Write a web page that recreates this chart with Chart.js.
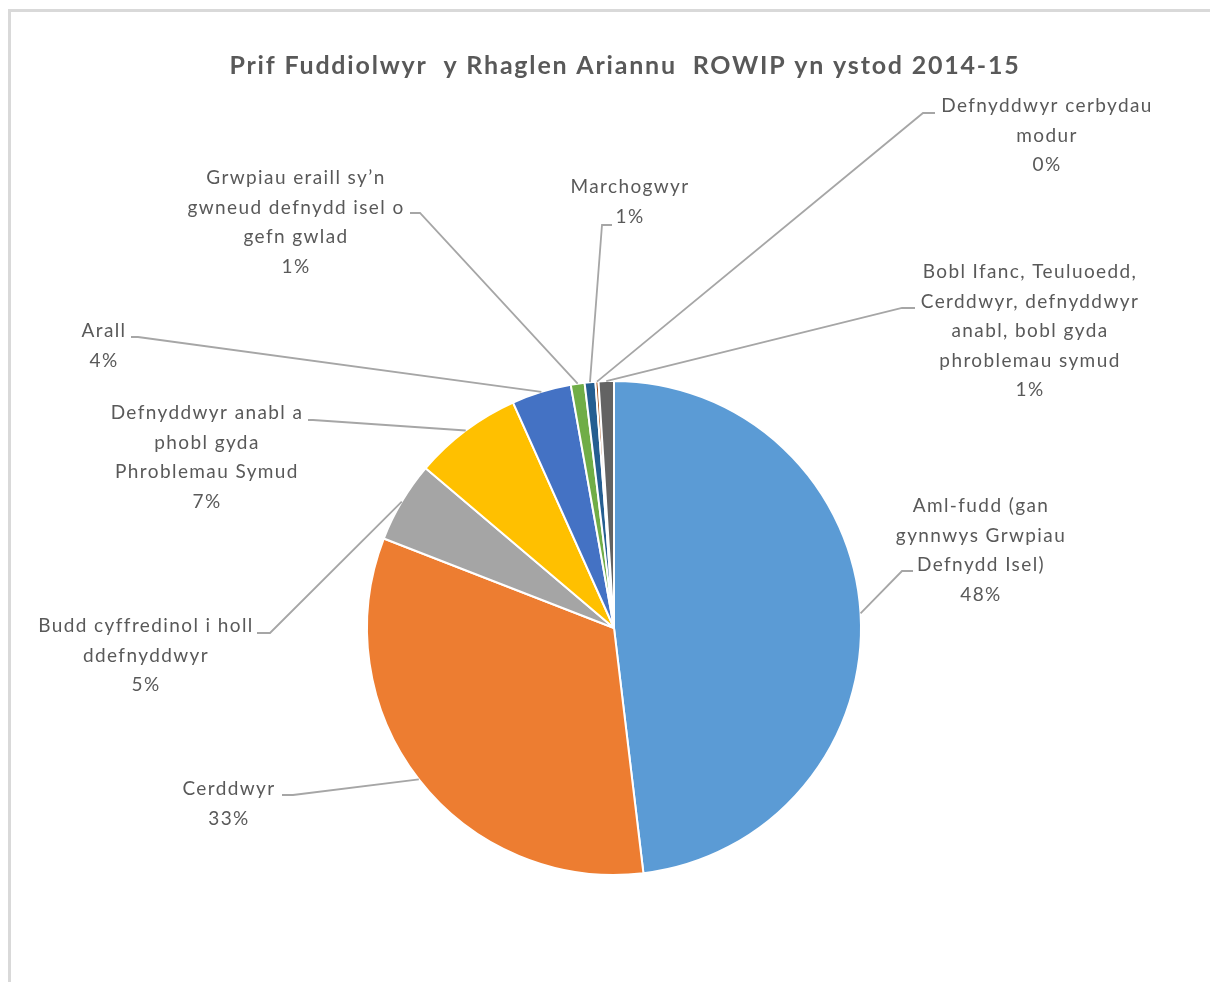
<!DOCTYPE html>
<html>
<head>
<meta charset="utf-8">
<title>Prif Fuddiolwyr y Rhaglen Ariannu ROWIP yn ystod 2014-15</title>
<script src="https://cdn.jsdelivr.net/npm/chart.js@4/dist/chart.umd.min.js"></script>
<style>
    html, body { margin: 0; padding: 0; background: #ffffff; overflow: hidden; }
    #pieChart { display: block; }
</style>
</head>
<body>
<canvas id="pieChart" width="1210" height="982"></canvas>
<script>
// ==================== DATA ====================

const chartTitle = 'Prif Fuddiolwyr  y Rhaglen Ariannu  ROWIP yn ystod 2014-15';

// category names, already broken into lines the way the labels wrap
const categories = [
    ['Aml-fudd (gan', 'gynnwys Grwpiau', 'Defnydd Isel)'],
    ['Cerddwyr'],
    ['Budd cyffredinol i holl', 'ddefnyddwyr'],
    ['Defnyddwyr anabl a', 'phobl gyda', 'Phroblemau Symud'],
    ['Arall'],
    ['Grwpiau eraill sy\u2019n', 'gwneud defnydd isel o', 'gefn gwlad'],
    ['Marchogwyr'],
    ['Defnyddwyr cerbydau', 'modur'],
    ['Bobl Ifanc, Teuluoedd,', 'Cerddwyr, defnyddwyr', 'anabl, bobl gyda', 'phroblemau symud']
];

// share of funding (%)
const shareValues = [48.1, 32.8, 5.3, 7.1, 3.9, 0.9, 0.7, 0.2, 1.0];

const sliceColors = ['#5B9BD5', '#ED7D31', '#A5A5A5', '#FFC000', '#4472C4',
                     '#70AD47', '#255E91', '#9E480E', '#636363'];

// ==================== LABEL LAYOUT ====================

// text centre x, first line centre y, elbow of leader line, end of leader line
const labelLayout = [
    { x: 981,  y: 506, elbow: [902, 571], end: [913, 571] },
    { x: 229,  y: 789, elbow: [293, 795], end: [282, 795] },
    { x: 146,  y: 626, elbow: [270, 633], end: [257, 633] },
    { x: 207,  y: 413, elbow: [313, 420], end: [308, 420] },
    { x: 104,  y: 331, elbow: [138, 337], end: [131, 337] },
    { x: 296,  y: 178, elbow: [420, 213], end: [410, 213] },
    { x: 630,  y: 187, elbow: [602, 225], end: [612, 225] },
    { x: 1047, y: 106, elbow: [923, 113], end: [935, 113] },
    { x: 1030, y: 272, elbow: [902, 308], end: [915, 308] }
];

const FONT = 'Lato, "Open Sans", sans-serif';
const TEXT_COLOR = '#595959';
const LINE_GAP = 29.5;

// ==================== PLUGINS ====================

// white background, frame and title
const framePlugin = {
    id: 'frame',
    beforeDraw(chart) {
        const ctx = chart.ctx;
        ctx.save();
        ctx.fillStyle = '#ffffff';
        ctx.fillRect(0, 0, chart.width, chart.height);
        ctx.fillStyle = '#d9d9d9';
        ctx.fillRect(8, 9, chart.width, 3);
        ctx.fillRect(8, 9, 3, chart.height);

        ctx.fillStyle = TEXT_COLOR;
        ctx.font = 'bold 25px ' + FONT;
        ctx.letterSpacing = '1.8px';
        ctx.textAlign = 'center';
        ctx.textBaseline = 'middle';
        ctx.fillText(chartTitle, 625, 66);
        ctx.restore();
    }
};

// data labels with leader lines
const sliceLabelPlugin = {
    id: 'sliceLabels',
    afterDatasetsDraw(chart) {
        const ctx = chart.ctx;
        const meta = chart.getDatasetMeta(0);
        const total = shareValues.reduce((a, b) => a + b, 0);

        ctx.save();
        meta.data.forEach((arc, i) => {
            const lay = labelLayout[i];
            const mid = (arc.startAngle + arc.endAngle) / 2;
            const sx = arc.x + Math.cos(mid) * arc.outerRadius;
            const sy = arc.y + Math.sin(mid) * arc.outerRadius;

            ctx.strokeStyle = '#a6a6a6';
            ctx.lineWidth = 1.8;
            ctx.beginPath();
            ctx.moveTo(sx, sy);
            ctx.lineTo(lay.elbow[0], lay.elbow[1]);
            ctx.lineTo(lay.end[0], lay.end[1]);
            ctx.stroke();

            const pct = Math.round(shareValues[i] / total * 100) + '%';
            const lines = categories[i].concat([pct]);
            ctx.fillStyle = TEXT_COLOR;
            ctx.font = '19px ' + FONT;
            ctx.letterSpacing = '1.4px';
            ctx.textAlign = 'center';
            ctx.textBaseline = 'middle';
            lines.forEach((t, j) => ctx.fillText(t, lay.x, lay.y + j * LINE_GAP));
        });
        ctx.restore();
    }
};

// ==================== CHART ====================

const ctx = document.getElementById('pieChart').getContext('2d');

const pieChart = new Chart(ctx, {
    type: 'pie',
    data: {
        labels: categories,
        datasets: [{
            data: shareValues,
            backgroundColor: sliceColors,
            borderColor: '#ffffff',
            borderWidth: 2
        }]
    },
    options: {
        responsive: false,
        animation: false,
        layout: {
            padding: { left: 366, right: 348, top: 380, bottom: 106 }
        },
        plugins: {
            legend: { display: false },
            title: { display: false },
            tooltip: { enabled: false }
        }
    },
    plugins: [framePlugin, sliceLabelPlugin]
});
</script>
</body>
</html>
